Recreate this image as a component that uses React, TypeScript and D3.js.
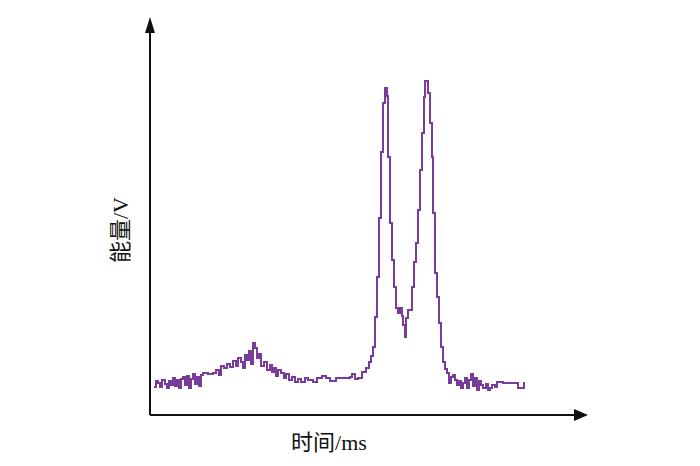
import React, { useRef, useEffect } from 'react';
import * as d3 from 'd3';

// time (arbitrary units) where each step starts
const times = [
  4, 6, 8, 10, 12, 15, 17, 19, 21, 23, 25, 27, 29, 31, 33, 35, 37, 39, 41, 43,
  45, 47, 49, 51, 53, 58, 63, 66, 69, 71, 74, 77, 80, 83, 86, 88, 91, 93, 95, 97,
  99, 101, 103, 105, 107, 109, 111, 114, 117, 120, 122, 124, 126, 128, 131, 134, 136, 139, 142, 145,
  148, 151, 155, 158, 163, 167, 172, 176, 180, 186, 193, 200, 202, 205, 208, 212, 216, 219, 221, 223,
  225, 227, 229, 231, 233, 235, 237, 238, 240, 242, 244, 246, 248, 250, 252, 253, 255, 256, 258, 260,
  262, 264, 266, 268, 270, 272, 274, 275, 278, 280, 282, 283, 285, 287, 289, 291, 293, 295, 297, 299,
  301, 303, 305, 307, 309, 311, 313, 315, 317, 319, 321, 323, 325, 327, 329, 331, 333, 336, 338, 340,
  342, 345, 347, 353, 368, 374, 375,
];

// energy level of each step
const energy = [
  28, 34, 32, 28, 35, 31, 27, 34, 30, 37, 29, 35, 27, 36, 38, 30, 39, 27, 36, 41,
  31, 38, 29, 40, 42, 41, 42, 45, 40, 49, 47, 51, 48, 54, 49, 57, 53, 47, 60, 55,
  64, 51, 72, 67, 57, 61, 49, 53, 45, 50, 43, 47, 39, 45, 42, 37, 41, 35, 38, 33,
  36, 33, 37, 35, 33, 37, 39, 37, 34, 37, 37, 38, 41, 36, 37, 43, 47, 53, 59, 68,
  98, 138, 197, 263, 312, 327, 319, 258, 192, 155, 128, 107, 102, 107, 99, 90, 78, 97, 105, 105,
  128, 153, 172, 205, 245, 282, 318, 334, 322, 292, 258, 202, 142, 118, 92, 68, 53, 46, 42, 32,
  38, 40, 35, 30, 34, 27, 32, 37, 27, 35, 41, 29, 37, 25, 34, 30, 27, 31, 25, 27,
  30, 28, 33, 32, 27, 32, 32,
];

const xLabel = '时间/ms';
const yLabel = '能量/V';

const App = () => {
  const svgRef = useRef<SVGSVGElement>(null);

  useEffect(() => {
    const svg = d3.select(svgRef.current);
    svg.selectAll('*').remove();

    const x = d3.scaleLinear().domain([0, 440]).range([150, 590]);
    const y = d3.scaleLinear().domain([0, 400]).range([415, 15]);

    const data = times.map((t, i) => ({ t, v: energy[i] }));

    // axes with arrow heads
    svg.append('line')
      .attr('x1', x(0)).attr('y1', y(0))
      .attr('x2', x(0)).attr('y2', y(383))
      .attr('stroke', '#111').attr('stroke-width', 2);
    svg.append('path')
      .attr('d', `M${x(0)},${y(398)} L${x(0) - 5},${y(382)} L${x(0) + 5},${y(382)} Z`)
      .attr('fill', '#111');

    svg.append('line')
      .attr('x1', x(0)).attr('y1', y(0))
      .attr('x2', x(425)).attr('y2', y(0))
      .attr('stroke', '#111').attr('stroke-width', 2);
    svg.append('path')
      .attr('d', `M${x(438)},${y(0)} L${x(424)},${y(0) - 6} L${x(424)},${y(0) + 6} Z`)
      .attr('fill', '#111');

    const line = d3.line<{ t: number; v: number }>()
      .x(d => x(d.t))
      .y(d => y(d.v))
      .curve(d3.curveStepAfter);

    svg.append('path')
      .datum(data)
      .attr('d', line)
      .attr('fill', 'none')
      .attr('stroke', '#7a3c9a')
      .attr('stroke-width', 2);

    const font = "'Liberation Serif', 'Noto Sans CJK SC', serif";

    svg.append('text')
      .attr('x', 329)
      .attr('y', 450)
      .attr('text-anchor', 'middle')
      .attr('font-family', font)
      .attr('font-size', 22)
      .attr('fill', '#111')
      .text(xLabel);

    svg.append('text')
      .attr('transform', 'translate(128, 230) rotate(-90)')
      .attr('text-anchor', 'middle')
      .attr('font-family', font)
      .attr('font-size', 22)
      .attr('fill', '#111')
      .text(yLabel);
  }, []);

  return (
    <svg
      ref={svgRef}
      width={700}
      height={466}
      style={{ position: 'absolute', left: 0, top: 0, background: '#fff' }}
    />
  );
};

export default App;
